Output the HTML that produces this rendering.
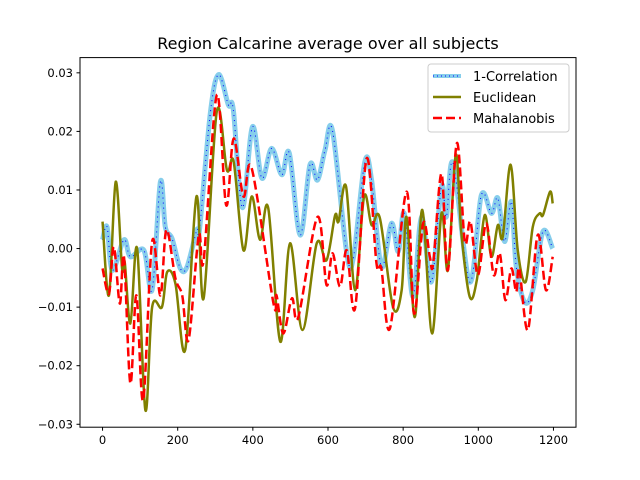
<!DOCTYPE html>
<html><head><meta charset="utf-8"><style>
html,body{margin:0;padding:0;background:#fff;}
svg{display:block;font-family:"DejaVu Sans","Liberation Sans",sans-serif;}
</style></head><body>
<svg id="chart" width="640" height="480">
<rect x="0" y="0" width="640" height="480" fill="#fff"/>
<text x="328" y="49" text-anchor="middle" font-size="16">Region Calcarine average over all subjects</text>
<g id="grid"></g>
<defs><clipPath id="clip"><rect x="80" y="57.6" width="496" height="369.6"/></clipPath></defs>
<g id="series" clip-path="url(#clip)"></g>
<rect x="80" y="57.6" width="496" height="369.6" fill="none" stroke="#000" stroke-width="1"/>
<g id="axes"></g>
<g>
<rect x="428" y="64" width="141" height="68" rx="3" fill="#fff" fill-opacity="0.8" stroke="#ccc"/>
<line x1="433" y1="76" x2="461" y2="76" stroke="#87ceeb" stroke-width="4"/>
<line x1="433" y1="76" x2="461" y2="76" stroke="#0000ff" stroke-width="1" stroke-dasharray="1,3" />
<text x="473" y="81" font-size="13">1-Correlation</text>
<line x1="433" y1="97" x2="461" y2="97" stroke="#808000" stroke-width="2.5"/>
<text x="473" y="102" font-size="13">Euclidean</text>
<line x1="433" y1="118" x2="461" y2="118" stroke="#ff0000" stroke-width="2.5" stroke-dasharray="9,4"/>
<text x="473" y="123" font-size="13">Mahalanobis</text>
</g>
</svg>
<script>
const xTicks = [0,200,400,600,800,1000,1200];
const yTicks = [-0.03,-0.02,-0.01,0.00,0.01,0.02,0.03];
const yTickLabels = ["−0.03","−0.02","−0.01","0.00","0.01","0.02","0.03"];
const corrX = [0,12,26,57,74,110,132,154,167,185,207,225,251,258,287,309,335,348,372,399,424,450,477,497,526,552,572,592,612,650,668,698,716,742,769,787,803,826,849,875,902,915,933,977,1008,1035,1052,1070,1088,1101,1123,1145,1172,1198];
const corrY = [0.0015,0.0037,-0.0037,0.0015,-0.0014,-0.0003,-0.007,0.0114,0.0037,0.0017,-0.0034,-0.0031,0.0032,0.0032,0.0232,0.0297,0.0245,0.0237,0.007,0.0208,0.012,0.0171,0.0126,0.0163,0.0023,0.0143,0.0117,0.0168,0.0201,-0.0008,-0.0014,0.0148,0.0117,-0.0031,0.0043,-0.0005,0.006,-0.0082,0.0054,-0.0057,0.0106,0.0054,0.0146,-0.0057,0.0091,0.006,0.0086,0.0012,0.008,-0.0031,-0.0091,-0.0071,0.0029,0.0];
const euclX = [0,17,35,52,59,74,92,114,132,158,172,194,220,250,269,304,331,349,375,397,419,441,473,499,532,570,596,619,628,648,672,696,716,738,773,796,809,831,851,877,902,919,940,955,977,996,1017,1035,1052,1065,1086,1105,1126,1145,1163,1172,1191,1198];
const euclY = [0.0046,-0.008,0.0114,-0.0034,-0.0023,-0.0128,0.0,-0.0276,-0.01,-0.01,-0.004,-0.006,-0.0173,0.0089,-0.0085,0.0234,0.0134,0.0148,-0.0003,0.0089,0.0015,0.0069,-0.0159,0.0009,-0.0139,0.0009,-0.002,0.0057,0.0046,0.0106,-0.0071,0.0089,0.004,0.0052,-0.01,-0.0071,0.0054,-0.0117,0.0066,-0.0145,0.006,-0.0037,0.016,0.0026,-0.0082,-0.0054,0.0057,-0.0014,0.004,0.002,0.0143,-0.0003,-0.0057,0.0037,0.006,0.0057,0.0097,0.0077];
const mahaX = [0,17,30,46,57,74,90,108,132,154,170,194,212,229,256,269,304,329,349,375,397,455,463,481,504,521,572,596,612,632,650,672,703,729,742,765,809,829,853,871,880,902,919,943,964,979,999,1021,1041,1057,1072,1088,1101,1109,1132,1158,1180,1198];
const mahaY = [-0.0034,-0.0077,0.0003,-0.0094,-0.0014,-0.023,-0.008,-0.0259,0.0012,-0.008,0.0032,-0.0051,-0.008,-0.0156,0.0023,-0.002,0.0262,0.0074,0.0188,0.0089,0.0137,-0.0094,-0.008,-0.0145,-0.0085,-0.0117,0.0054,-0.0062,-0.0008,-0.0065,-0.0003,-0.0102,0.0154,-0.0025,-0.0034,-0.0136,0.0097,-0.0111,0.0043,-0.0014,-0.0025,0.0128,-0.0037,0.018,0.0012,0.0046,-0.0045,0.0043,-0.0045,-0.0008,-0.0088,-0.0034,-0.0074,-0.0034,-0.0139,0.0023,-0.0071,-0.0014];

const NS='http://www.w3.org/2000/svg';
const X0=80,X1=576,Y0=427.2,Y1=57.6;
const xmin=-60,xmax=1260,ymin=-0.0305,ymax=0.0326;
function sx(v){return X0+(v-xmin)/(xmax-xmin)*(X1-X0);}
function sy(v){return Y0-(v-ymin)/(ymax-ymin)*(Y0-Y1);}
function pathFor(xs,ys){
  const p=xs.map((x,i)=>[sx(x),sy(ys[i])]);
  let d='M'+p[0][0].toFixed(2)+','+p[0][1].toFixed(2);
  for(let i=0;i<p.length-1;i++){
    const a=p[Math.max(0,i-1)],b=p[i],c=p[i+1],e=p[Math.min(p.length-1,i+2)];
    const c1=[b[0]+(c[0]-a[0])/6,b[1]+(c[1]-a[1])/6];
    const c2=[c[0]-(e[0]-b[0])/6,c[1]-(e[1]-b[1])/6];
    d+='C'+c1[0].toFixed(2)+','+c1[1].toFixed(2)+' '+c2[0].toFixed(2)+','+c2[1].toFixed(2)+' '+c[0].toFixed(2)+','+c[1].toFixed(2);
  }
  return d;
}
const axes=document.getElementById('axes');
const series=document.getElementById('series');
xTicks.forEach(t=>{
  const l=document.createElementNS(NS,'line');
  l.setAttribute('x1',sx(t));l.setAttribute('x2',sx(t));l.setAttribute('y1',Y0);l.setAttribute('y2',Y0+3.5);l.setAttribute('stroke','#000');
  
  
  axes.appendChild(l);
  const tx=document.createElementNS(NS,'text');
  tx.setAttribute('x',sx(t));tx.setAttribute('y',Y0+17);tx.setAttribute('text-anchor','middle');tx.setAttribute('font-size','11.5');
  tx.textContent=String(t);
  
  
  axes.appendChild(tx);
});
yTicks.forEach((t,i)=>{
  const l=document.createElementNS(NS,'line');
  l.setAttribute('x1',X0-3.5);l.setAttribute('x2',X0);l.setAttribute('y1',sy(t));l.setAttribute('y2',sy(t));l.setAttribute('stroke','#000');
  
  
  axes.appendChild(l);
  const tx=document.createElementNS(NS,'text');
  tx.setAttribute('x',X0-7);tx.setAttribute('y',sy(t)+4);tx.setAttribute('text-anchor','end');tx.setAttribute('font-size','11.5');
  tx.textContent=yTickLabels[i];
  
  
  axes.appendChild(tx);
});
function addPath(d,stroke,w,dash,name){
  const p=document.createElementNS(NS,'path');
  p.setAttribute('d',d);p.setAttribute('fill','none');p.setAttribute('stroke',stroke);p.setAttribute('stroke-width',w);
  if(dash)p.setAttribute('stroke-dasharray',dash);
  
  
  series.appendChild(p);
}
const dc=pathFor(corrX,corrY);
addPath(dc,'#87ceeb',5,null,'correlation-line');
addPath(dc,'#0000ff',1,'1,4','correlation-markers');
addPath(pathFor(euclX,euclY),'#808000',2.5,null,'euclidean-line');
addPath(pathFor(mahaX,mahaY),'#ff0000',2.5,'9,4','mahalanobis-line');
</script>
</body></html>
